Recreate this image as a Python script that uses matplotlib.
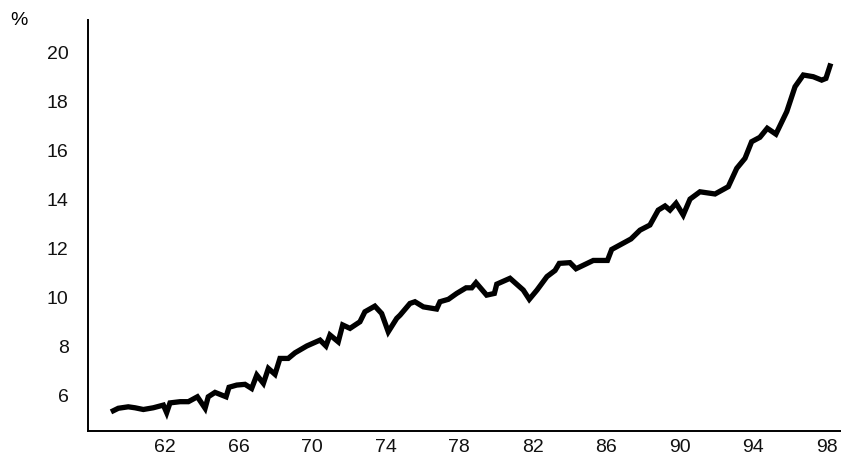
import matplotlib
matplotlib.use('Agg')
import matplotlib.pyplot as plt

# years (19xx) and percent values
years = [59.19, 59.46, 60.00, 60.37, 60.82, 61.36, 61.91, 62.09, 62.27, 62.82,
         63.27, 63.76, 64.18, 64.35, 64.72, 65.32, 65.48, 65.90, 66.35, 66.71,
         66.99, 67.35, 67.62, 67.98, 68.25, 68.70, 69.07, 69.71, 70.43, 70.75,
         70.97, 71.42, 71.66, 72.06, 72.60, 72.87, 73.41, 73.78, 74.14, 74.60,
         74.78, 75.32, 75.59, 76.05, 76.77, 76.95, 77.41, 77.86, 78.37, 78.68,
         78.91, 79.49, 79.91, 80.04, 80.76, 81.48, 81.81, 82.23, 82.77, 83.21,
         83.44, 84.02, 84.35, 85.29, 86.06, 86.29, 87.34, 87.83, 88.37, 88.82,
         89.19, 89.46, 89.79, 90.18, 90.55, 91.09, 91.91, 92.63, 93.09, 93.54,
         93.90, 94.35, 94.75, 95.22, 95.81, 96.26, 96.71, 97.25, 97.71, 97.94,
         98.16]
values = [5.36, 5.46, 5.52, 5.48, 5.41, 5.48, 5.59, 5.28, 5.68, 5.73,
          5.73, 5.93, 5.46, 5.93, 6.11, 5.93, 6.32, 6.41, 6.44, 6.27,
          6.82, 6.48, 7.09, 6.85, 7.50, 7.50, 7.73, 8.01, 8.25, 8.01,
          8.46, 8.18, 8.87, 8.73, 9.00, 9.41, 9.64, 9.34, 8.59, 9.14,
          9.27, 9.75, 9.82, 9.61, 9.52, 9.82, 9.92, 10.16, 10.39, 10.39,
          10.60, 10.09, 10.16, 10.54, 10.78, 10.30, 9.92, 10.30, 10.85, 11.10,
          11.39, 11.42, 11.17, 11.51, 11.51, 11.96, 12.39, 12.75, 12.96, 13.57,
          13.74, 13.57, 13.85, 13.37, 14.02, 14.32, 14.23, 14.53, 15.28, 15.69,
          16.37, 16.55, 16.92, 16.68, 17.60, 18.62, 19.10, 19.03, 18.89, 18.96,
          19.47]

x_ticks = list(range(62, 99, 4))
y_ticks = list(range(6, 21, 2))

plt.rcParams['font.family'] = ['Liberation Sans', 'DejaVu Sans']

fig = plt.figure(figsize=(8.41, 4.59), dpi=100)
ax = fig.add_axes([0.1046, 0.061, 0.8954, 0.8954])

ax.plot(years, values, color='black', linewidth=3.8, solid_joinstyle='miter')

ax.set_xlim(57.81, 98.76)
ax.set_ylim(4.53, 21.35)
ax.set_xticks(x_ticks)
ax.set_xticklabels([str(t) for t in x_ticks])
ax.set_yticks(y_ticks)
ax.set_yticklabels([str(t) for t in y_ticks])

for side in ['top', 'right']:
    ax.spines[side].set_visible(False)
for side in ['left', 'bottom']:
    ax.spines[side].set_linewidth(1.4)
    ax.spines[side].set_color('black')

ax.tick_params(axis='both', length=0, labelsize=14, labelcolor='#111111')
ax.tick_params(axis='y', pad=14)
ax.tick_params(axis='x', pad=6)

fig.text(0.012, 0.955, '%', fontsize=14, ha='left', va='center')

fig.savefig('out.png', dpi=100)
